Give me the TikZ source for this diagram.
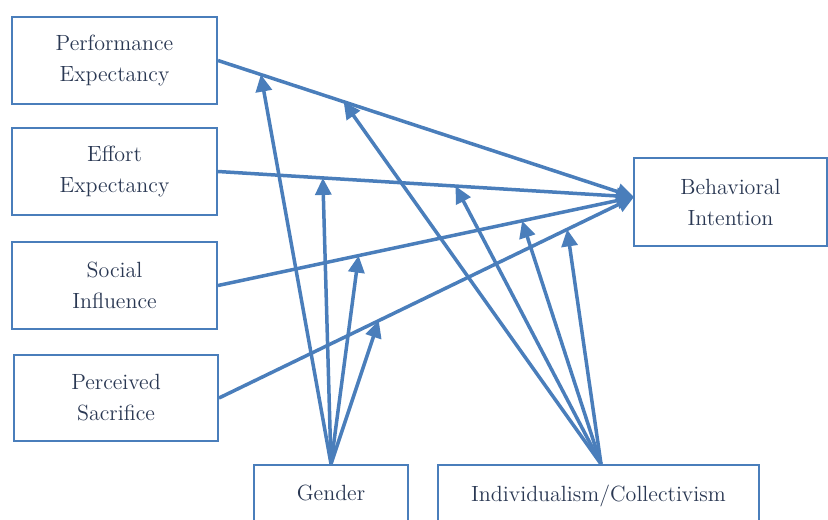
\documentclass[tikz,border=0pt]{standalone}
\usetikzlibrary{arrows.meta}
\definecolor{linkblue}{HTML}{4A7EBB}
\definecolor{inktext}{HTML}{2A3853}
\begin{document}
\begin{tikzpicture}[x=0.5pt,y=-0.5pt,
  construct/.style={draw=linkblue,line width=1pt,fill=white,align=center,
    text=inktext,font=\fontsize{11}{15.5}\selectfont,inner sep=0pt},
  moderator/.style={construct,minimum height=32pt,text depth=4pt,anchor=north},
  link/.style={draw=linkblue,line width=1.75pt,
    -{Triangle[length=8.5pt,width=8pt]}}]
\useasboundingbox (0,0) rectangle (828,519);
\clip (0,0) rectangle (828,519);
% constructs
\node[construct,minimum width=102.5pt,minimum height=43.5pt] (pe) at (114.5,60.5) {Performance\\Expectancy};
\node[construct,minimum width=102.5pt,minimum height=43.5pt] (ee) at (114.5,171.5) {Effort\\Expectancy};
\node[construct,minimum width=102.5pt,minimum height=43.5pt] (si) at (114.5,285.5) {Social\\Influence};
\node[construct,minimum width=102pt,minimum height=43pt] (ps) at (116,398) {Perceived\\Sacrifice};
\node[construct,minimum width=96.5pt,minimum height=44pt] (bi) at (730.5,202) {Behavioral\\Intention};
% moderators (their lower edges run past the page)
\node[moderator,minimum width=77pt] (gen) at (331,464) {Gender};
\node[moderator,minimum width=160.5pt] (ic) at (598.5,464) {Individualism/Collectivism};
\coordinate (bitip) at (634,197);
\coordinate (gtop) at (331,464);
\coordinate (itop) at (601,464);
% direct effects, with points on each path for the moderators
\draw[link] (pe.east) -- coordinate[pos=0.103] (pe-g) coordinate[pos=0.302] (pe-i) (bitip);
\draw[link] (ee.east) -- coordinate[pos=0.252] (ee-g) coordinate[pos=0.571] (ee-i) (bitip);
\draw[link] (si.east) -- coordinate[pos=0.338] (si-g) coordinate[pos=0.731] (si-i) (bitip);
\draw[link] (ps.east) -- coordinate[pos=0.385] (ps-g) coordinate[pos=0.839] (ps-i) (bitip);
% moderating effects
\foreach \t in {pe,ee,si,ps}{
  \draw[link] (gtop) -- (\t-g);
  \draw[link] (itop) -- (\t-i);
}
\end{tikzpicture}
\end{document}
